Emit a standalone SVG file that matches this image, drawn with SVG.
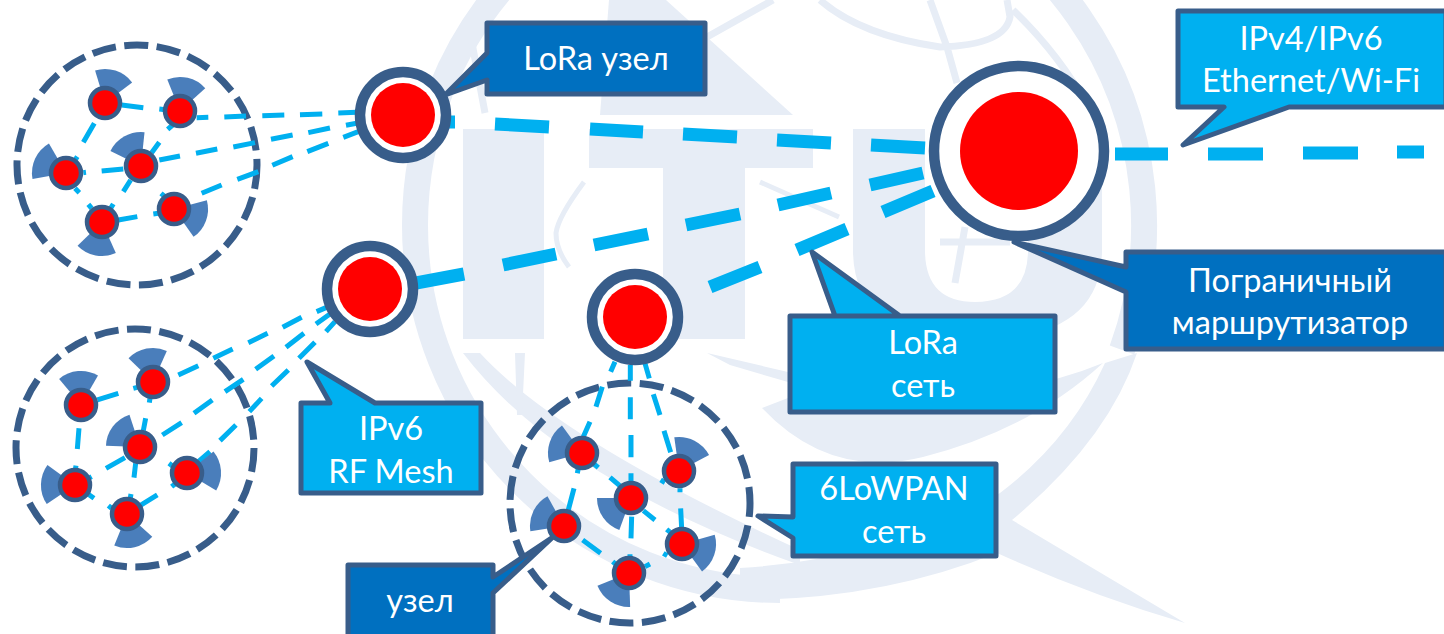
<svg xmlns="http://www.w3.org/2000/svg" width="1444" height="634" viewBox="0 0 1444 634">
<style>
text{font-family:"Lato","Noto Sans","DejaVu Sans",sans-serif;font-size:32.5px;fill:#fff;text-anchor:middle}
.wm{fill:none;stroke:#e7edf6}
.wf{fill:#e7edf6}
.cl{fill:none;stroke:#385d8a;stroke-width:7;stroke-dasharray:24 8.5}
.lk{fill:none;stroke:#00b0f0;stroke-width:15}
.bb{fill:none;stroke:#00b0f0;stroke-width:13}
.w{fill:#4a7ebb}
.n{fill:#f00;stroke:#385d8a;stroke-width:4.5}
.o{fill:#fff;stroke:#385d8a;stroke-width:10.5}
.r{fill:#f00}
.cd{fill:#0070c0;stroke:#385d8a;stroke-width:5;stroke-linejoin:round}
.cc{fill:#00b0f0;stroke:#385d8a;stroke-width:5;stroke-linejoin:round}
</style>
<defs>
<path id="wedge" d="M0,0L-19.5,-27.9A34,34 0 0 1 19.5,-27.9Z"/>
</defs>
<rect width="1444" height="634" fill="#fff"/>
<g id="watermark">
<path class="wm" stroke-width="26" d="M780,590A365,365 0 0 1 780,-140A365,365 0 0 1 1122,350"/>
<path class="wf" d="M463,129H544V339H463ZM589,129H813V168H745V339H663V168H589ZM853,129H925V250Q925,302 975,302Q1028,302 1028,250V129H1102V250Q1102,340 975,340Q853,340 853,250Z"/>
<path class="wf" d="M609,0H666L793,115H600Z"/>
<path class="wm" stroke-width="7" d="M820,0Q860,35 940,47Q1005,45 1010,17L1007,0M930,0L947,47L957,83M707,37L773,0M1013,10Q1060,55 1090,110M940,242H1010M965,227L955,283M472,43L485,113"/>
<path class="wm" stroke-width="5" d="M584,182Q558,217 556,233Q556,250 569,267M760,182L839,217"/>
<path class="wf" d="M1137,353Q1108,440 1012,520L1185,623Q1090,595 997,553Q880,600 740,600L740,568Q880,560 1000,493Q1070,440 1105,363Z"/>
<path class="wf" d="M762,408Q830,480 923,457Q1030,430 1103,363Q1050,385 1000,388Q900,400 788,398Z"/>
<path class="wf" d="M463,353H480Q560,440 800,550V565Q560,480 463,353Z"/>
<path class="wf" d="M515,353H525L522,415H517ZM707,353L788,372V382L730,365Z"/>
</g>
<g id="cluster-lora"><circle class="cl" cx="137" cy="165" r="120"/></g>
<g id="cluster-mesh"><circle class="cl" cx="135" cy="448" r="119"/></g>
<g id="cluster-6lowpan"><circle class="cl" cx="630" cy="503" r="120" stroke-dashoffset="10"/></g>
<g id="connectors">
<g transform="translate(0,20) scale(.3333)">
<path class="lk" d="M365,255L430,263M478,267L495,269M283,310L250,367M232,410L222,425M250,458L258,457M305,453L370,447M225,505L238,518M265,553L275,565M392,480L370,515M340,552L330,568M478,367L455,398M518,315L503,328M483,520L495,530M355,600L412,590M460,582L475,580"/>
<path class="lk" d="M590,293L625,292M673,291L738,288M787,287L853,285M900,284L967,282M1015,279L1070,277"/>
<path class="lk" d="M478,420L540,408M588,400L652,387M700,381L765,368M813,358L878,345M925,338L990,324M1038,316L1070,310"/>
<path class="lk" d="M605,520L665,495M712,478L775,455M817,436L878,410M922,395L985,370M1030,352L1075,335"/>
</g>
<g transform="translate(0,300) scale(.3333)">
<path class="lk" d="M292,300L355,280M400,265L412,262M237,385L232,447M228,497L226,510M450,295L448,308M437,355L430,392M318,505L375,473M260,538L275,530M265,583L282,595M325,617L335,625M407,490L402,533M393,582L390,600M420,617L472,585M515,560L525,552M507,490L520,500"/>
<path class="lk" d="M535,225L595,197M640,175L698,147M745,128L803,100M848,82L905,52M950,35L985,20"/>
<path class="lk" d="M487,405L545,368M582,340L637,300M675,275L730,238M767,208L822,168M858,142L912,100M948,72L990,42"/>
<path class="lk" d="M595,485L630,455M660,422L708,375M748,335L785,295M815,258L865,210M897,175L945,127M978,95L1005,65"/>
</g>
<g transform="translate(490,260) scale(.3333)">
<path class="lk" d="M375,305L362,335M337,380L318,440M300,485L280,530"/>
<path class="lk" d="M421,315L421,362M421,412L421,478M423,525L423,592M423,640L423,665"/>
<path class="lk" d="M465,310L478,355M490,403L510,465M522,512L542,577"/>
<path class="lk" d="M265,625L262,640M252,685L235,750M312,612L325,623M360,652L390,678M570,685L570,697M572,745L575,805M512,660L525,668M425,770L423,835M420,883L420,895M460,752L495,780M530,808L542,818M278,840L332,880M368,905L380,915M520,880L532,887M480,912L465,920"/>
</g>
<path class="bb" d="M449,122H455M495,124L549,127M590,129L643,132M683,134L737,137M777,140L831,143M871,145L925,148"/>
<path class="bb" d="M416,283L464,274M503,265L556,254M594,245L648,234M686,225L740,214M778,205L831,193M870,185L923,173"/>
<path class="bb" d="M710,287L760,267M797,250L847,229M883,212L933,191"/>
<path class="bb" stroke-width="14" d="M1115,154H1168M1208,154H1263M1303,153H1358M1397,152H1424"/>
</g>
<g id="sensors-lora">
<use href="#wedge" class="w" transform="translate(105,103) rotate(18)"/><use href="#wedge" class="w" transform="translate(180,111) rotate(13)"/><use href="#wedge" class="w" transform="translate(66,173) rotate(-65)"/><use href="#wedge" class="w" transform="translate(141,166) rotate(-29)"/><use href="#wedge" class="w" transform="translate(102,222) rotate(191)"/><use href="#wedge" class="w" transform="translate(174,209) rotate(110)"/>
<circle class="n" cx="105" cy="103" r="15"/><circle class="n" cx="180" cy="111" r="15"/><circle class="n" cx="66" cy="173" r="15"/><circle class="n" cx="141" cy="166" r="15"/><circle class="n" cx="102" cy="222" r="15"/><circle class="n" cx="174" cy="209" r="15"/>
</g>
<g id="sensors-mesh">
<use href="#wedge" class="w" transform="translate(81,405) rotate(-5)"/><use href="#wedge" class="w" transform="translate(153,382) rotate(-11)"/><use href="#wedge" class="w" transform="translate(75,485) rotate(-89)"/><use href="#wedge" class="w" transform="translate(140,447) rotate(-53)"/><use href="#wedge" class="w" transform="translate(127,514) rotate(167)"/><use href="#wedge" class="w" transform="translate(187,473) rotate(86)"/>
<circle class="n" cx="81" cy="405" r="15"/><circle class="n" cx="153" cy="382" r="15"/><circle class="n" cx="75" cy="485" r="15"/><circle class="n" cx="140" cy="447" r="15"/><circle class="n" cx="127" cy="514" r="15"/><circle class="n" cx="187" cy="473" r="15"/>
</g>
<g id="sensors-6lowpan">
<use href="#wedge" class="w" transform="translate(582,453) rotate(-71)"/><use href="#wedge" class="w" transform="translate(679,471) rotate(27)"/><use href="#wedge" class="w" transform="translate(631,498) rotate(-125)"/><use href="#wedge" class="w" transform="translate(564,526) rotate(-64)"/><use href="#wedge" class="w" transform="translate(682,544) rotate(109)"/><use href="#wedge" class="w" transform="translate(629,573) rotate(-147)"/>
<circle class="n" cx="582" cy="453" r="15"/><circle class="n" cx="679" cy="471" r="15"/><circle class="n" cx="631" cy="498" r="15"/><circle class="n" cx="564" cy="526" r="15"/><circle class="n" cx="682" cy="544" r="15"/><circle class="n" cx="629" cy="573" r="15"/>
</g>
<g id="node-lora"><circle class="o" cx="403" cy="115" r="43"/><circle class="r" cx="403" cy="115" r="32"/></g>
<g id="node-mesh"><circle class="o" cx="370" cy="289" r="43"/><circle class="r" cx="370" cy="289" r="32"/></g>
<g id="node-6lowpan"><circle class="o" cx="635" cy="317" r="43"/><circle class="r" cx="635" cy="317" r="32"/></g>
<g id="border-router"><circle class="o" cx="1019" cy="151" r="85"/><circle class="r" cx="1019" cy="151" r="59"/></g>
<g id="label-lora-node"><path class="cd" d="M487,23H705V94H487V80L445,95L487,53Z"/><text x="596" y="70">LoRa узел</text></g>
<g id="label-ipv4"><path class="cc" d="M1178,11H1446V107H1289L1183,145L1224,107H1178Z"/><text x="1311" y="50">IPv4/IPv6</text><text x="1311" y="92">Ethernet/Wi-Fi</text></g>
<g id="label-router"><path class="cd" d="M1126,252H1446V349H1126V292L1014,242L1126,267Z"/><text x="1290" y="292">Пограничный</text><text x="1290" y="334">маршрутизатор</text></g>
<g id="label-lora-net"><path class="cc" d="M790,316H1055V412H790V316H835L812,252L900,316Z"/><text x="923" y="354">LoRa</text><text x="923" y="397">сеть</text></g>
<g id="label-ipv6"><path class="cc" d="M301,403H330L307,362L375,403H481V493H301Z"/><text x="391" y="440">IPv6</text><text x="391" y="483">RF Mesh</text></g>
<g id="label-6lowpan"><path class="cc" d="M793,464H996V556H793V538L758,516L793,517Z"/><text x="894" y="500">6LoWPAN</text><text x="894" y="543">сеть</text></g>
<g id="label-node"><path class="cd" d="M348,565H493V577L553,537L493,593V640H348Z"/><text x="420" y="612">узел</text></g>
</svg>
